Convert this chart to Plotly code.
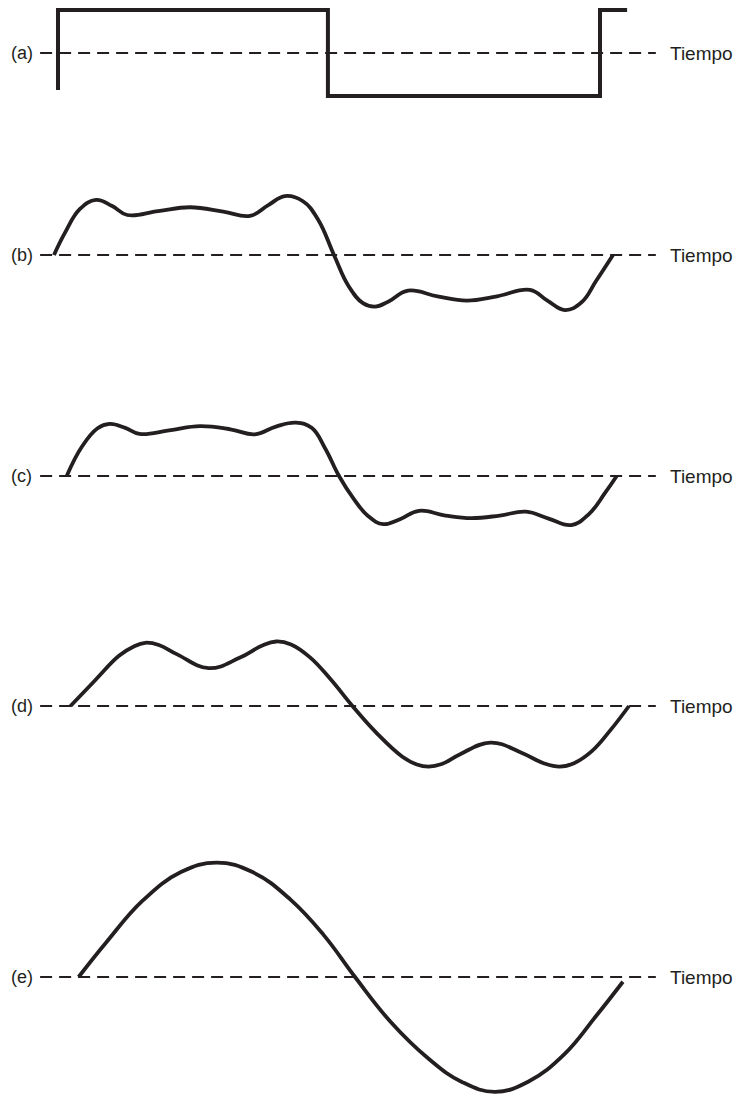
import plotly.graph_objects as go

# ---- data -----------------------------------------------------------------
panel_labels = ["(a)", "(b)", "(c)", "(d)", "(e)"]
time_label = "Tiempo"

# (a) square wave: one full period (time 0..100) plus the start of the next
t_a = [0.0, 0.0, 49.8, 49.8, 100.0, 100.0, 105.0]
v_a = [-0.86, 1.0, 1.0, -1.0, -1.0, 1.0, 1.0]

# (b) many harmonics
t_b = [-0.74, 1.3, 4.06, 7.01, 10.0, 12.79, 18.5, 24.35, 30.5, 35.42,
       38.8, 41.88, 45.2, 48.0, 50.92, 53.6, 56.27, 58.49, 61.0, 64.58,
       70.0, 75.41, 81.0, 87.08, 90.3, 93.54, 96.6, 99.3, 102.4]
v_b = [0.0, 0.52, 1.07, 1.28, 1.14, 0.93, 1.02, 1.11, 1.01, 0.91,
       1.16, 1.37, 1.25, 0.82, 0.0, -0.72, -1.12, -1.20, -1.08, -0.83,
       -0.96, -1.06, -0.96, -0.81, -1.06, -1.28, -1.10, -0.60, 0.0]

# (c) fewer harmonics
t_c = [1.61, 4.4, 7.31, 9.50, 12.4, 15.04, 20.5, 26.20, 32.0, 36.31,
       40.22, 43.91, 46.8, 49.3, 51.85, 54.5, 57.2, 60.02, 63.2, 66.61,
       71.5, 76.27, 81.5, 86.35, 90.5, 94.72, 98.0, 100.9, 103.08]
v_c = [0.0, 0.68, 1.11, 1.21, 1.12, 0.98, 1.06, 1.16, 1.08, 0.97,
       1.15, 1.24, 1.12, 0.64, 0.0, -0.52, -0.93, -1.12, -1.00, -0.81,
       -0.92, -0.98, -0.92, -0.83, -0.99, -1.14, -0.88, -0.40, 0.0]

# (d) fundamental plus third harmonic
t_d = [2.31, 6.86, 11.25, 13.9, 16.09, 18.6, 22.0, 27.79, 33.5, 37.6,
       40.26, 43.0, 46.5, 50.3, 54.32, 58.71, 63.54, 66.2, 68.38, 70.8,
       74.2, 79.80, 85.4, 89.6, 92.53, 95.2, 98.5, 102.0, 105.35]
v_d = [0.0, 0.60, 1.17, 1.38, 1.47, 1.42, 1.20, 0.88, 1.12, 1.40,
       1.50, 1.43, 1.13, 0.62, 0.0, -0.62, -1.18, -1.36, -1.41, -1.35,
       -1.12, -0.85, -1.08, -1.33, -1.41, -1.33, -1.05, -0.55, 0.0]

# (e) fundamental only
t_e = [3.80, 9.0, 15.66, 22.69, 29.28, 35.9, 42.9, 49.0, 54.80, 61.35,
       68.38, 74.52, 80.66, 86.83, 93.4, 99.2, 104.23]
v_e = [0.0, 0.82, 1.78, 2.44, 2.66, 2.44, 1.80, 0.98, 0.0, -1.04,
       -1.90, -2.44, -2.67, -2.43, -1.80, -0.92, -0.11]

# time span of the dashed reference line
baseline_t = [-3.3, 110.3]

# ---- layout ---------------------------------------------------------------
W, H = 742, 1094
PX_PER_UNIT = 43.0           # vertical scale shared by all panels
X_RANGE = [-10.70, 126.2]    # time range shown across the page

# (baseline row, top row, bottom row) of each panel, in page pixels
panel_rows = [(53, 0, 122), (255, 150, 350), (476, 372, 572),
              (706, 592, 826), (977, 834, 1094)]

series = [(t_a, v_a, "linear", 4.0), (t_b, v_b, "spline", 3.8),
          (t_c, v_c, "spline", 3.8), (t_d, v_d, "spline", 3.8),
          (t_e, v_e, "spline", 3.8)]

INK = "#231f20"
FONT = "Liberation Sans, Arial, Helvetica, sans-serif"

fig = go.Figure()
layout = dict(
    width=W, height=H, margin=dict(l=0, r=0, t=0, b=0),
    paper_bgcolor="white", plot_bgcolor="white", showlegend=False,
)
annotations = []

for i, ((base, top, bot), (tt, vv, shape, lw)) in enumerate(zip(panel_rows, series)):
    n = i + 1
    xname = "x" if n == 1 else f"x{n}"
    yname = "y" if n == 1 else f"y{n}"
    axx = "xaxis" if n == 1 else f"xaxis{n}"
    axy = "yaxis" if n == 1 else f"yaxis{n}"

    layout[axx] = dict(range=X_RANGE, domain=[0, 1], visible=False,
                       fixedrange=True, anchor=yname)
    layout[axy] = dict(range=[(base - bot) / PX_PER_UNIT, (base - top) / PX_PER_UNIT],
                       domain=[1 - bot / H, 1 - top / H], visible=False,
                       fixedrange=True, anchor=xname)

    # dashed time axis
    fig.add_trace(go.Scatter(
        x=baseline_t, y=[0, 0], xaxis=xname, yaxis=yname, mode="lines",
        line=dict(color=INK, width=1.8, dash="12px,7px"), hoverinfo="skip"))
    # waveform
    fig.add_trace(go.Scatter(
        x=tt, y=vv, xaxis=xname, yaxis=yname, mode="lines",
        line=dict(color=INK, width=lw, shape=shape, smoothing=1.2),
        hoverinfo="skip"))

    annotations.append(dict(
        text=panel_labels[i], xref="paper", yref=yname, x=9 / W, y=0,
        xanchor="left", yanchor="middle", showarrow=False,
        font=dict(family=FONT, size=18, color=INK)))
    annotations.append(dict(
        text=time_label, xref="paper", yref=yname, x=668 / W, y=0,
        xanchor="left", yanchor="middle", showarrow=False,
        font=dict(family=FONT, size=19, color=INK)))

layout["annotations"] = annotations
fig.update_layout(**layout)
fig.write_html("out.html")
